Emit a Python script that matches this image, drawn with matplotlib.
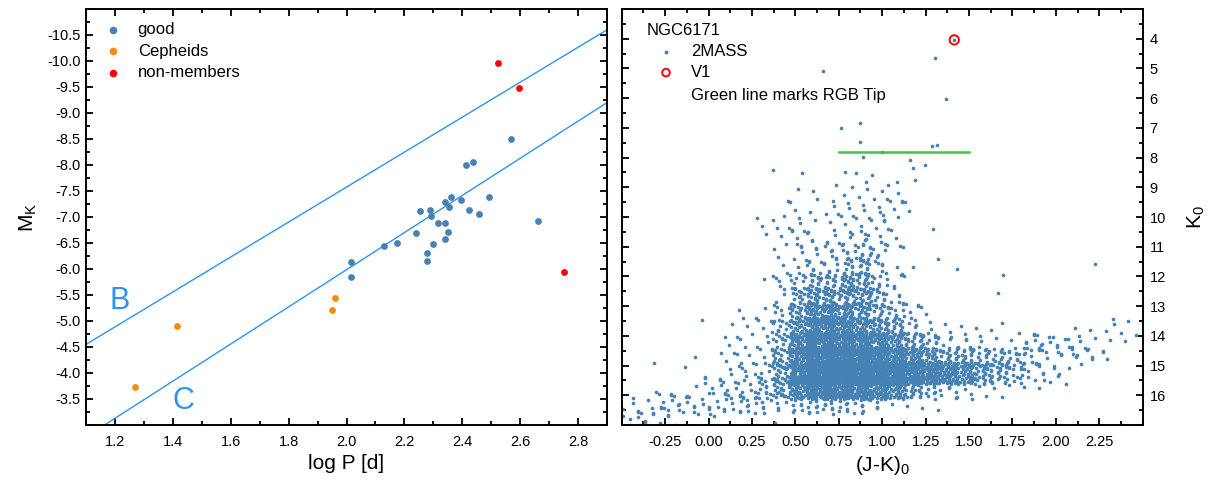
import numpy as np
import matplotlib
matplotlib.use("Agg")
import matplotlib.pyplot as plt
from matplotlib.ticker import FixedLocator, MultipleLocator, FormatStrFormatter

# ---- left panel: period-luminosity data --------------------------------
good_logp = [2.016, 2.017, 2.129, 2.174, 2.241, 2.254, 2.277, 2.278, 2.289,
             2.292, 2.299, 2.315, 2.341, 2.341, 2.341, 2.352, 2.355, 2.362,
             2.397, 2.414, 2.422, 2.438, 2.458, 2.494, 2.569, 2.663]
good_mk = [-6.13, -5.84, -6.44, -6.50, -6.69, -7.11, -6.15, -6.30, -7.13,
           -7.01, -6.49, -6.88, -7.29, -6.88, -6.58, -6.71, -7.19, -7.39,
           -7.33, -8.00, -7.14, -8.05, -7.05, -7.38, -8.50, -6.92]
ceph_logp = [1.27, 1.415, 1.95, 1.96]
ceph_mk = [-3.73, -4.90, -5.22, -5.44]
nonmem_logp = [2.522, 2.595, 2.75]
nonmem_mk = [-9.97, -9.49, -5.94]

# sequence lines B and C (end points)
seq_b_logp = [1.1, 2.9]
seq_b_mk = [-4.55, -10.60]
seq_c_logp = [1.164, 2.9]
seq_c_mk = [-3.0, -9.2]

# ---- right panel: 2MASS CMD of NGC6171 ---------------------------------
# bright, isolated stars read one by one
bright_jk = [1.415, 1.302, 0.661, 1.365, 0.761, 0.872, 0.872, 1.286, 1.313,
             1.000, 0.891, 1.158, 0.371, 0.540, 0.787, 0.849, 1.177, 1.246,
             0.943, 0.906, 1.190, 1.083, 1.031]
bright_k = [4.04, 4.64, 5.08, 6.03, 7.02, 6.85, 7.49, 7.61, 7.57,
            7.80, 7.97, 8.07, 8.42, 8.52, 8.47, 8.51, 8.35, 8.26,
            8.60, 8.81, 8.75, 8.82, 8.91]

# fainter stars: number of stars per cell (0.1 mag in J-K, 0.5 mag in K)
cmd_jk_lo = [-0.5, -0.4, -0.3, -0.2, -0.1, 0.0, 0.1, 0.2, 0.3, 0.4,
             0.5, 0.6, 0.7, 0.8, 0.9, 1.0, 1.1, 1.2, 1.3, 1.4,
             1.5, 1.6, 1.7, 1.8, 1.9, 2.0, 2.1, 2.2, 2.3, 2.4]
cmd_k_lo = [9.0, 9.5, 10.0, 10.5, 11.0, 11.5, 12.0, 12.5,
            13.0, 13.5, 14.0, 14.5, 15.0, 15.5, 16.0, 16.5]
cmd_counts = [
    [0, 0, 0, 0, 0, 0, 0, 0, 0, 2, 1, 0, 2, 2, 2, 2, 2, 0, 0, 0, 0, 0, 0, 0, 0, 0, 0, 0, 0, 0],
    [0, 0, 0, 0, 0, 0, 0, 0, 1, 3, 2, 2, 3, 3, 3, 4, 2, 0, 0, 0, 0, 0, 0, 0, 0, 0, 0, 0, 0, 0],
    [0, 0, 0, 0, 0, 0, 0, 0, 2, 3, 4, 2, 3, 3, 5, 3, 0, 0, 0, 0, 0, 0, 0, 0, 0, 0, 0, 0, 0, 0],
    [0, 0, 0, 0, 0, 0, 0, 0, 1, 2, 5, 3, 4, 6, 6, 2, 0, 1, 0, 0, 0, 0, 0, 0, 0, 0, 0, 0, 0, 0],
    [0, 0, 0, 0, 0, 0, 0, 0, 0, 3, 5, 5, 7, 12, 9, 2, 0, 1, 0, 0, 0, 0, 0, 0, 0, 0, 0, 0, 0, 0],
    [0, 0, 0, 0, 0, 0, 0, 0, 0, 3, 6, 7, 9, 16, 10, 3, 0, 1, 1, 0, 0, 1, 0, 0, 0, 0, 0, 1, 0, 0],
    [0, 0, 0, 0, 0, 0, 0, 1, 1, 4, 14, 18, 20, 35, 14, 4, 2, 0, 0, 0, 0, 0, 0, 0, 0, 0, 0, 0, 0, 0],
    [0, 0, 0, 0, 0, 0, 0, 1, 2, 6, 22, 32, 25, 28, 15, 8, 3, 0, 0, 0, 0, 0, 1, 0, 0, 0, 0, 0, 0, 0],
    [0, 0, 0, 0, 0, 0, 0, 2, 3, 10, 35, 50, 42, 30, 20, 12, 5, 2, 0, 0, 0, 0, 1, 0, 0, 0, 0, 0, 0, 0],
    [0, 0, 0, 0, 1, 0, 2, 2, 4, 14, 45, 60, 55, 45, 36, 25, 12, 5, 2, 1, 1, 1, 0, 0, 1, 2, 2, 2, 3, 2],
    [0, 0, 0, 0, 0, 1, 2, 3, 5, 20, 55, 80, 80, 75, 60, 42, 26, 14, 8, 5, 3, 3, 4, 5, 6, 6, 5, 3, 2, 1],
    [0, 0, 0, 1, 0, 1, 2, 3, 6, 25, 70, 105, 110, 105, 90, 70, 50, 36, 25, 22, 22, 18, 12, 10, 6, 4, 3, 2, 1, 0],
    [0, 0, 1, 0, 1, 2, 3, 5, 9, 30, 90, 120, 125, 125, 120, 110, 95, 75, 60, 48, 32, 22, 14, 8, 4, 2, 1, 0, 0, 0],
    [0, 0, 1, 2, 3, 5, 7, 9, 12, 28, 60, 80, 85, 80, 65, 50, 32, 20, 10, 6, 5, 3, 2, 1, 0, 0, 0, 0, 0, 0],
    [1, 3, 5, 6, 7, 8, 9, 9, 9, 9, 12, 14, 14, 10, 7, 4, 2, 1, 1, 0, 0, 0, 0, 0, 0, 0, 0, 0, 0, 0],
    [7, 8, 6, 4, 2, 1, 0, 0, 0, 1, 0, 0, 0, 0, 0, 0, 0, 0, 0, 0, 0, 0, 0, 0, 0, 0, 0, 0, 0, 0],
]
cell_w_jk = 0.1
cell_h_k = 0.5

v1_jk = [1.415]
v1_k = [4.04]
tip_jk = [0.75, 1.50]
tip_k = [7.82, 7.82]

# ---- spread each cell's stars around the cell (R2 low-discrepancy lattice);
# the spread is a bit wider than the cell so neighbouring cells blend
g = 1.32471795724474602596
spread_jk, spread_k = 1.7, 1.5
cmd_jk, cmd_k = list(bright_jk), list(bright_k)
for r, k0 in enumerate(cmd_k_lo):
    for c, jk0 in enumerate(cmd_jk_lo):
        n = cmd_counts[r][c]
        if n == 0:
            continue
        i = np.arange(n) + 37 * (r * len(cmd_jk_lo) + c) + 0.31 * r
        u = (0.5 + i / g) % 1.0 - 0.5
        v = (0.5 + i / g**2) % 1.0 - 0.5
        cmd_jk.extend(jk0 + cell_w_jk * (0.5 + spread_jk * u))
        cmd_k.extend(k0 + cell_h_k * (0.5 + spread_k * v))

# ---- style ------------------------------------------------------------
plt.rcParams["font.family"] = ["Liberation Sans", "DejaVu Sans"]
plt.rcParams["mathtext.fontset"] = "custom"
plt.rcParams["mathtext.rm"] = "Liberation Sans"
plt.rcParams["mathtext.default"] = "regular"
plt.rcParams["axes.unicode_minus"] = False

dot_blue = "#4682B4"
line_blue = "#2B94F2"

fig = plt.figure(figsize=(12.11, 4.83), dpi=100)
ax1 = fig.add_axes([86 / 1211, 58 / 483, 521 / 1211, 416 / 483])
ax2 = fig.add_axes([621.7 / 1211, 58 / 483, 521 / 1211, 416 / 483])

for ax in (ax1, ax2):
    for sp in ax.spines.values():
        sp.set_linewidth(1.4)
    ax.tick_params(which="both", direction="in", top=True, right=True,
                   width=1.3, labelsize=10.5)
    ax.tick_params(which="major", length=5)
    ax.tick_params(which="minor", length=3)

# ---- left panel ---------------------------------------------------------
ax1.plot(seq_b_logp, seq_b_mk, color=line_blue, lw=1.0)
ax1.plot(seq_c_logp, seq_c_mk, color=line_blue, lw=1.0)
ax1.scatter(good_logp, good_mk, s=24, color=dot_blue, lw=0, zorder=3)
ax1.scatter(ceph_logp, ceph_mk, s=24, color="#F98A10", lw=0, zorder=3)
ax1.scatter(nonmem_logp, nonmem_mk, s=24, color="#FF0000", lw=0, zorder=3)

ax1.text(1.215, -5.38, "B", fontsize=22, color=line_blue, ha="center", va="center")
ax1.text(1.435, -3.46, "C", fontsize=22, color=line_blue, ha="center", va="center")

ax1.set_xlim(1.1, 2.9)
ax1.set_ylim(-3.0, -11.0)
ax1.xaxis.set_major_locator(FixedLocator([1.2, 1.4, 1.6, 1.8, 2.0, 2.2, 2.4, 2.6, 2.8]))
ax1.xaxis.set_minor_locator(MultipleLocator(0.1))
ax1.xaxis.set_major_formatter(FormatStrFormatter("%.1f"))
ax1.yaxis.set_major_locator(FixedLocator(list(np.arange(-10.5, -3.4, 0.5))))
ax1.yaxis.set_minor_locator(MultipleLocator(0.25))
ax1.yaxis.set_major_formatter(FormatStrFormatter("%.1f"))
ax1.tick_params(axis="x", pad=7)
ax1.tick_params(axis="y", pad=4)
ax1.set_xlabel("log P [d]", fontsize=15, labelpad=4)
ax1.set_ylabel("M$_K$", fontsize=15, labelpad=6)

leg_labels = ["good", "Cepheids", "non-members"]
leg_colors = [dot_blue, "#F98A10", "#FF0000"]
for j, (lab, col) in enumerate(zip(leg_labels, leg_colors)):
    y = 0.950 - 0.0515 * j
    ax1.scatter([0.0524], [y], s=30, color=col, lw=0, transform=ax1.transAxes,
                clip_on=False)
    ax1.text(0.0992, y, lab, fontsize=12, va="center", transform=ax1.transAxes)

# ---- right panel --------------------------------------------------------
ax2.scatter(cmd_jk, cmd_k, s=7, color=dot_blue, lw=0, zorder=2)
ax2.plot(tip_jk, tip_k, color="#3CC83C", lw=1.8, zorder=3)
ax2.scatter(v1_jk, v1_k, s=45, facecolors="none", edgecolors="#FF0000",
            lw=1.4, zorder=4)

ax2.set_xlim(-0.5, 2.5)
ax2.set_ylim(17.0, 3.0)
ax2.xaxis.set_major_locator(FixedLocator([-0.25, 0.0, 0.25, 0.5, 0.75, 1.0,
                                          1.25, 1.5, 1.75, 2.0, 2.25]))
ax2.xaxis.set_minor_locator(MultipleLocator(0.125))
ax2.xaxis.set_major_formatter(FormatStrFormatter("%.2f"))
ax2.yaxis.set_major_locator(FixedLocator(list(range(4, 17))))
ax2.yaxis.set_minor_locator(MultipleLocator(0.5))
ax2.tick_params(axis="y", labelleft=False, labelright=True, pad=5)
ax2.tick_params(axis="x", pad=7)
ax2.yaxis.set_label_position("right")
ax2.set_xlabel("(J-K)$_0$", fontsize=15, labelpad=4)
ax2.set_ylabel("K$_0$", fontsize=15, labelpad=14)

ax2.text(0.048, 0.9495, "NGC6171", fontsize=12, va="center", transform=ax2.transAxes)
ax2.scatter([0.085], [0.897], s=8, color=dot_blue, lw=0, transform=ax2.transAxes,
            clip_on=False)
ax2.text(0.133, 0.897, "2MASS", fontsize=12, va="center", transform=ax2.transAxes)
ax2.scatter([0.085], [0.847], s=30, facecolors="none", edgecolors="#FF0000", lw=1.4,
            transform=ax2.transAxes, clip_on=False)
ax2.text(0.133, 0.847, "V1", fontsize=12, va="center", transform=ax2.transAxes)
ax2.text(0.133, 0.793, "Green line marks RGB Tip", fontsize=12, va="center",
         transform=ax2.transAxes)

fig.savefig("out.png", dpi=100)
